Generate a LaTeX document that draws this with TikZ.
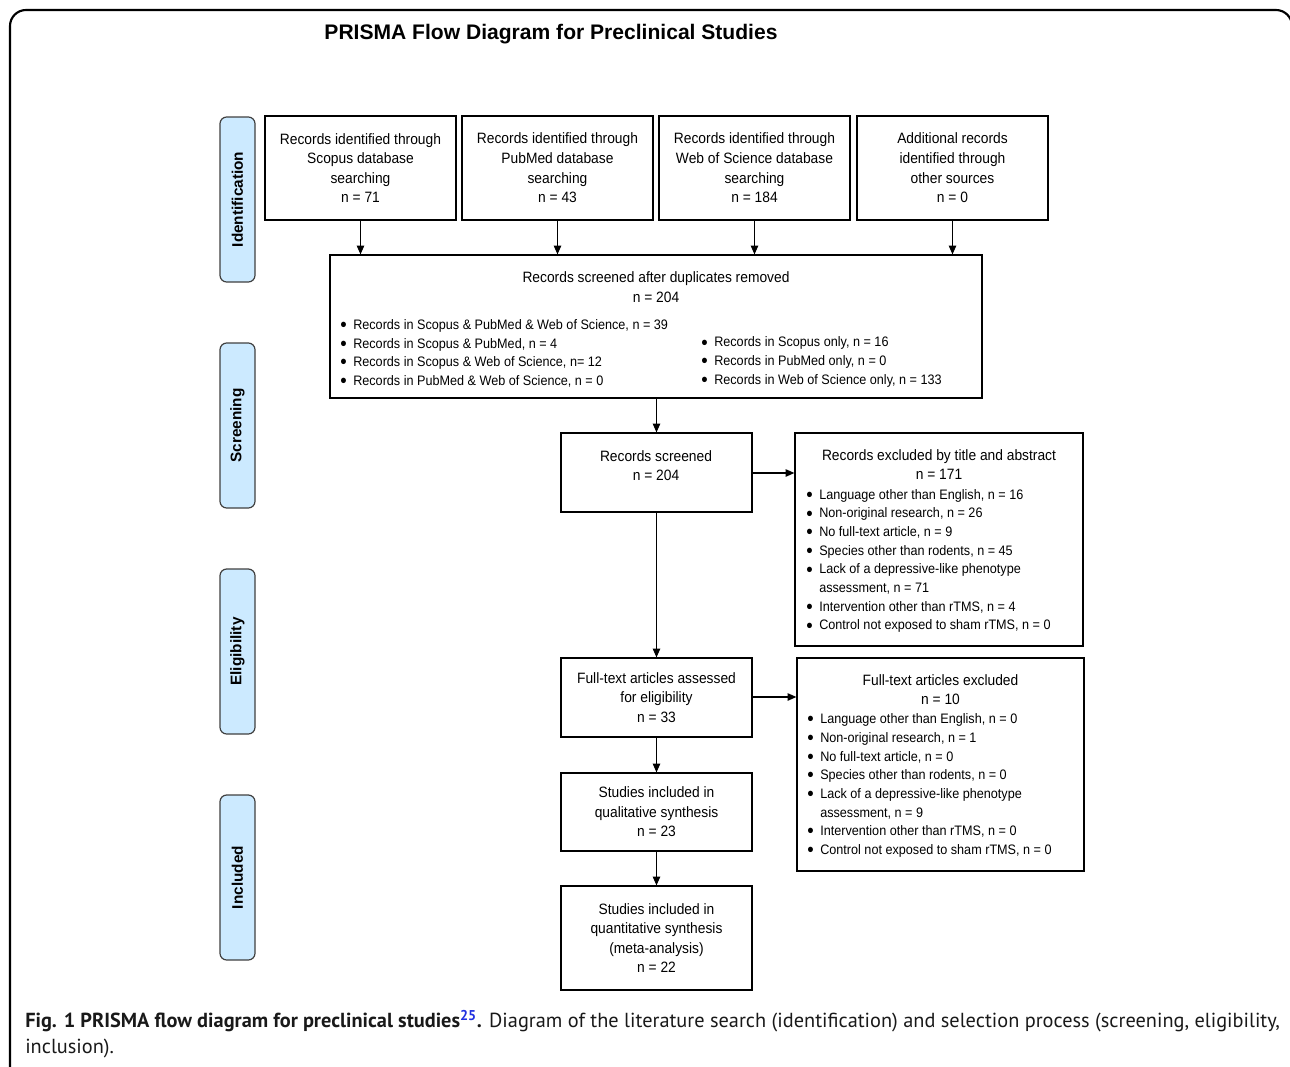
\documentclass[tikz,border=0pt]{standalone}
\usepackage{fontspec}
\setmainfont{Liberation Sans}
\newfontfamily\nar[FakeStretch=0.92]{Liberation Sans}
\newfontfamily\capf{PT Sans}
\usetikzlibrary{arrows.meta,fit}
\definecolor{sidefill}{HTML}{CCEAFF}
\definecolor{refblue}{HTML}{2030E0}
\newcommand\bl{\makebox[9.75pt][l]{\raisebox{-1.6pt}{\scalebox{1.45}{\textbullet}}}}
\newcommand\ind{\hspace*{9.75pt}}
\begin{document}
\begin{tikzpicture}[x=0.75pt,y=-0.75pt,
  box/.style={draw, line width=0.9pt, inner sep=0pt, align=center, font=\nar\fontsize{11.25}{14.7}\selectfont},
  txt/.style={inner sep=0pt, align=center, font=\nar\fontsize{11.25}{14.7}\selectfont},
  blist/.style={inner sep=0pt, align=left, anchor=west, font=\nar\fontsize{10.3}{14}\selectfont},
  side/.style={draw=black!75, fill=sidefill, rounded corners=5pt, line width=0.9pt, inner sep=0pt},
  sidetxt/.style={rotate=90, font=\bfseries\fontsize{11.5}{13}\selectfont},
  arr/.style={-{Triangle[length=6.5pt,width=5.5pt]}, line width=0.9pt}]
\useasboundingbox (0,0) rectangle (1290,1067);
\clip (0,0) rectangle (1290,1067);
% outer frame
\draw[line width=1.6pt, rounded corners=12pt] (10,1100) |- (1292,10) -- (1292,1100);
% title
\node[font=\bfseries\fontsize{15.8}{18}\selectfont, inner sep=0pt] (title) at (551,34.5) {PRISMA Flow Diagram for Preclinical Studies};
% side labels
\node[side, fit={(220,117) (255,282)}] (sid) {};
\node[sidetxt] at (sid.center) {Identification};
\node[side, fit={(220,343) (255,508)}] (ssc) {};
\node[sidetxt] at (ssc.center) {Screening};
\node[side, fit={(220,569) (255,734)}] (sel) {};
\node[sidetxt] at (sel.center) {Eligibility};
\node[side, fit={(220,795) (255,960)}] (sin) {};
\node[sidetxt] at (sin.center) {Included};
% identification boxes
\node[box, fit={(265,116) (456,220)}] (scopus) {};
\node[txt] at (scopus.center) {Records identified through\\Scopus database\\searching\\n = 71};
\node[box, fit={(462,116) (653,220)}] (pubmed) {};
\node[txt] at (pubmed.center) {Records identified through\\PubMed database\\searching\\n = 43};
\node[box, fit={(659,116) (850,220)}] (wos) {};
\node[txt] at (wos.center) {Records identified through\\Web of Science database\\searching\\n = 184};
\node[box, fit={(857,116) (1048,220)}] (other) {};
\node[txt] at (other.center) {Additional records\\identified through\\other sources\\n = 0};
% dedup box
\node[box, fit={(330,255) (982,398)}] (dedup) {};
\node[txt] at (656,287) {Records screened after duplicates removed\\n = 204};
\node[blist] at (340,353.5) {\bl Records in Scopus \& PubMed \& Web of Science, n = 39\\
\bl Records in Scopus \& PubMed, n = 4\\
\bl Records in Scopus \& Web of Science, n= 12\\
\bl Records in PubMed \& Web of Science, n = 0};
\node[blist] at (701,362) {\bl Records in Scopus only, n = 16\\
\bl Records in PubMed only, n = 0\\
\bl Records in Web of Science only, n = 133};
% arrows into dedup
\draw[arr] (scopus.south) -- (scopus.south |- dedup.north);
\draw[arr] (pubmed.south) -- (pubmed.south |- dedup.north);
\draw[arr] (wos.south) -- (wos.south |- dedup.north);
\draw[arr] (other.south) -- (other.south |- dedup.north);
% screened
\node[box, fit={(561,433) (752,512)}] (screened) {};
\node[txt] at (656,465.5) {Records screened\\n = 204};
\draw[arr] (dedup.south -| screened.north) -- (screened.north);
% excluded 1
\node[box, fit={(795,433) (1083,646)}] (exc1) {};
\node[txt] at (939,464.5) {Records excluded by title and abstract\\n = 171};
\node[blist] at (806,561) {\bl Language other than English, n = 16\\
\bl Non-original research, n = 26\\
\bl No full-text article, n = 9\\
\bl Species other than rodents, n = 45\\
\bl Lack of a depressive-like phenotype\\
\ind assessment, n = 71\\
\bl Intervention other than rTMS, n = 4\\
\bl Control not exposed to sham rTMS, n = 0};
\draw[arr] (screened.east |- 0,473) -- (exc1.west |- 0,473);
% full text
\node[box, fit={(561,658) (752,737)}] (full) {};
\node[txt] at (full.center) {Full-text articles assessed\\for eligibility\\n = 33};
\draw[arr] (screened.south) -- (full.north);
% excluded 2
\node[box, fit={(797,658) (1084,871)}] (exc2) {};
\node[txt] at (940.5,689.5) {Full-text articles excluded\\n = 10};
\node[blist] at (807,785.5) {\bl Language other than English, n = 0\\
\bl Non-original research, n = 1\\
\bl No full-text article, n = 0\\
\bl Species other than rodents, n = 0\\
\bl Lack of a depressive-like phenotype\\
\ind assessment, n = 9\\
\bl Intervention other than rTMS, n = 0\\
\bl Control not exposed to sham rTMS, n = 0};
\draw[arr] (full.east |- 0,697) -- (exc2.west |- 0,697);
% qualitative
\node[box, fit={(561,773) (752,851)}] (qual) {};
\node[txt] at (qual.center) {Studies included in\\qualitative synthesis\\n = 23};
\draw[arr] (full.south) -- (qual.north);
% quantitative
\node[box, fit={(561,886) (752,990)}] (quant) {};
\node[txt] at (quant.center) {Studies included in\\quantitative synthesis\\(meta-analysis)\\n = 22};
\draw[arr] (qual.south) -- (quant.north);
% caption
\node[anchor=west, inner sep=0pt, font=\capf\fontsize{15.25}{18}\selectfont, text=black!90] (cap1) at (25,1021) {\textbf{Fig. 1 PRISMA flow diagram for preclinical studies\textsuperscript{\textcolor{refblue}{25}}.} Diagram of the literature search (identification) and selection process (screening, eligibility,};
\node[anchor=west, inner sep=0pt, font=\capf\fontsize{15.25}{18}\selectfont, text=black!90] (cap2) at (25,1048) {inclusion).};
\end{tikzpicture}
\end{document}
